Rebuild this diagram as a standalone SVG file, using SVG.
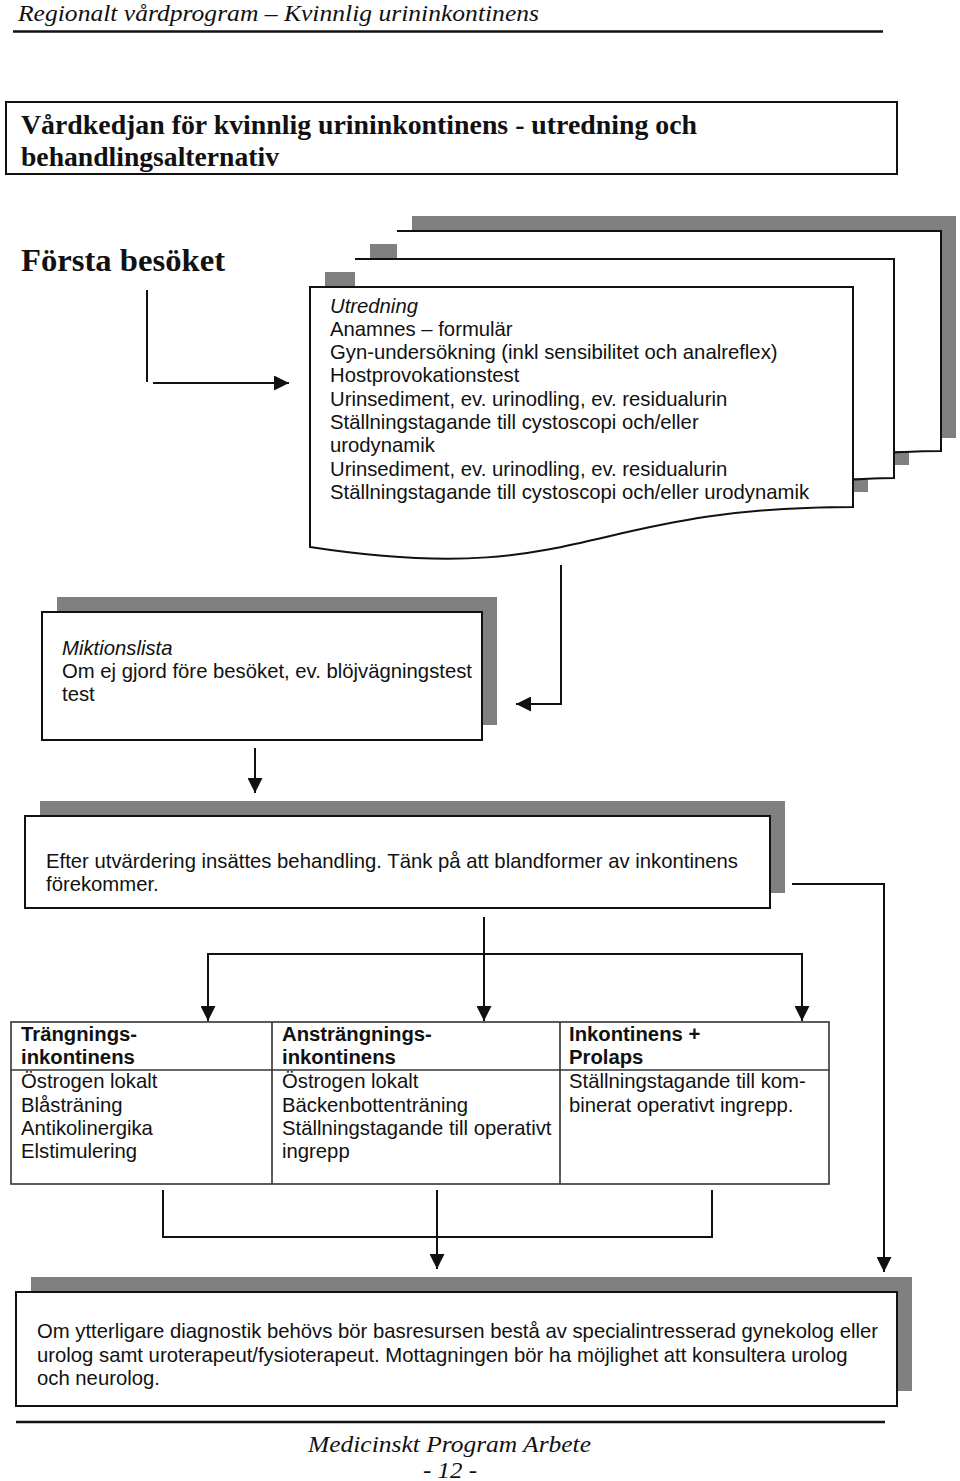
<svg xmlns="http://www.w3.org/2000/svg" width="960" height="1481" viewBox="0 0 960 1481">
<style>
.t{font-family:"Liberation Sans",Arial,sans-serif;font-size:20.3px;fill:#111}
.b{font-weight:bold}
.i{font-style:italic}
.sf{font-family:"Liberation Serif","Times New Roman",serif;fill:#111}
.box{fill:#fff;stroke:#111;stroke-width:2}
.sh{fill:#808080}
.ln{fill:none;stroke:#111;stroke-width:2}
.tb{fill:#fff;stroke:#333;stroke-width:1.6}
</style>
<defs>
<marker id="ah" viewBox="0 0 14 14" refX="14" refY="7" markerWidth="15" markerHeight="15" orient="auto" markerUnits="userSpaceOnUse"><path d="M0,0 L14,7 L0,14 Z" fill="#111"/></marker>
</defs>
<rect width="960" height="1481" fill="#fff"/>

<g id="header">
<text class="sf i" x="18" y="21" font-size="24" textLength="521" lengthAdjust="spacingAndGlyphs">Regionalt vårdprogram – Kvinnlig urininkontinens</text>
<line x1="13" y1="31.5" x2="883" y2="31.5" stroke="#111" stroke-width="2.5"/>
</g>

<g id="title">
<rect x="6" y="102" width="891" height="72" fill="#fff" stroke="#111" stroke-width="2"/>
<text class="sf b" x="21" y="134" font-size="27" textLength="676" lengthAdjust="spacingAndGlyphs">Vårdkedjan för kvinnlig urininkontinens - utredning och</text>
<text class="sf b" x="21" y="166" font-size="27" textLength="258" lengthAdjust="spacingAndGlyphs">behandlingsalternativ</text>
</g>

<g id="forsta">
<text class="sf b" x="21" y="271" font-size="32" textLength="204" lengthAdjust="spacingAndGlyphs">Första besöket</text>
</g>

<g id="utredning">
<rect class="sh" x="412" y="216" width="544" height="222"/>
<rect class="sh" x="370" y="244" width="539" height="221"/>
<path class="sh" d="M325,272 H868 V492 C596.5,492 596.5,573.5 325,532 Z"/>
<rect x="397" y="231" width="544" height="220" fill="#fff"/>
<path class="ln" d="M397,231 H941 V451 C925,451 905,452 894,452.5"/>
<rect x="355" y="259" width="539" height="219" fill="#fff"/>
<path class="ln" d="M355,259 H894 V478 C880,478 865,479 853,479.5"/>
<path class="box" d="M310,287 H853 V507 C581.5,507 581.5,588.5 310,547 Z"/>
<text class="t i" x="330" y="313">Utredning</text>
<text class="t" x="330" y="336">Anamnes – formulär</text>
<text class="t" x="330" y="359">Gyn-undersökning (inkl sensibilitet och analreflex)</text>
<text class="t" x="330" y="382">Hostprovokationstest</text>
<text class="t" x="330" y="406">Urinsediment, ev. urinodling, ev. residualurin</text>
<text class="t" x="330" y="429">Ställningstagande till cystoscopi och/eller</text>
<text class="t" x="330" y="452">urodynamik</text>
<text class="t" x="330" y="476">Urinsediment, ev. urinodling, ev. residualurin</text>
<text class="t" x="330" y="499">Ställningstagande till cystoscopi och/eller urodynamik</text>
</g>

<g id="miktionslista">
<rect class="sh" x="57" y="597" width="440" height="128"/>
<rect class="box" x="42" y="612" width="440" height="128"/>
<text class="t i" x="62" y="655">Miktionslista</text>
<text class="t" x="62" y="678">Om ej gjord före besöket, ev. blöjvägningstest</text>
<text class="t" x="62" y="701">test</text>
</g>

<g id="efter">
<rect class="sh" x="40" y="801" width="745" height="92"/>
<rect class="box" x="25" y="816" width="745" height="92"/>
<text class="t" x="46" y="868">Efter utvärdering insättes behandling. Tänk på att blandformer av inkontinens</text>
<text class="t" x="46" y="891">förekommer.</text>
</g>

<g id="tabell">
<rect class="tb" x="11" y="1022" width="818" height="162"/>
<line x1="11" y1="1070" x2="829" y2="1070" stroke="#333" stroke-width="1.6"/>
<line x1="272" y1="1022" x2="272" y2="1184" stroke="#333" stroke-width="1.6"/>
<line x1="560" y1="1022" x2="560" y2="1184" stroke="#333" stroke-width="1.6"/>
<text class="t b" x="21" y="1041">Trängnings-</text>
<text class="t b" x="21" y="1064">inkontinens</text>
<text class="t" x="21" y="1088">Östrogen lokalt</text>
<text class="t" x="21" y="1112">Blåsträning</text>
<text class="t" x="21" y="1135">Antikolinergika</text>
<text class="t" x="21" y="1158">Elstimulering</text>
<text class="t b" x="282" y="1041">Ansträngnings-</text>
<text class="t b" x="282" y="1064">inkontinens</text>
<text class="t" x="282" y="1088">Östrogen lokalt</text>
<text class="t" x="282" y="1112">Bäckenbottenträning</text>
<text class="t" x="282" y="1135">Ställningstagande till operativt</text>
<text class="t" x="282" y="1158">ingrepp</text>
<text class="t b" x="569" y="1041">Inkontinens +</text>
<text class="t b" x="569" y="1064">Prolaps</text>
<text class="t" x="569" y="1088">Ställningstagande till kom-</text>
<text class="t" x="569" y="1112">binerat operativt ingrepp.</text>
</g>

<g id="specialist">
<rect class="sh" x="31" y="1277" width="881" height="114"/>
<rect class="box" x="16" y="1292" width="881" height="114"/>
<text class="t" x="37" y="1338">Om ytterligare diagnostik behövs bör basresursen bestå av specialintresserad gynekolog eller</text>
<text class="t" x="37" y="1362">urolog samt uroterapeut/fysioterapeut. Mottagningen bör ha möjlighet att konsultera urolog</text>
<text class="t" x="37" y="1385">och neurolog.</text>
</g>

<g id="connectors">
<path class="ln" d="M147,290 V382"/>
<path class="ln" d="M153,383 H289" marker-end="url(#ah)"/>
<path class="ln" d="M561,565 V704 H516" marker-end="url(#ah)"/>
<path class="ln" d="M255,748 V793" marker-end="url(#ah)"/>
<path class="ln" d="M484,917 V1021" marker-end="url(#ah)"/>
<path class="ln" d="M208,1021 V954 H802 V1021"/>
<path class="ln" d="M208,954 V1021" marker-end="url(#ah)"/>
<path class="ln" d="M802,954 V1021" marker-end="url(#ah)"/>
<path class="ln" d="M792,884 H884 V1272" marker-end="url(#ah)"/>
<path class="ln" d="M163,1190 V1237 H712 V1190"/>
<path class="ln" d="M437,1190 V1269" marker-end="url(#ah)"/>
</g>

<g id="footer">
<line x1="16" y1="1422" x2="885" y2="1422" stroke="#111" stroke-width="2.5"/>
<text class="sf i" x="308" y="1452" font-size="24" textLength="283" lengthAdjust="spacingAndGlyphs">Medicinskt Program Arbete</text>
<text class="sf i" x="423" y="1478" font-size="24" textLength="54" lengthAdjust="spacingAndGlyphs">- 12 -</text>
</g>
</svg>
